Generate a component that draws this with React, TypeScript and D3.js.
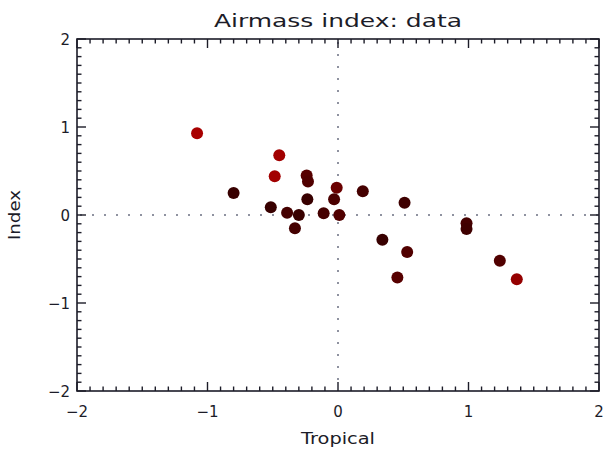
import React from 'react';
import * as d3 from 'd3';

// values
const tropical = [-1.08, -0.8, -0.45, -0.485, -0.515, -0.24, -0.23, -0.01, 0.19, -0.235, -0.03, -0.39, -0.3, -0.11, 0.01, -0.33, 0.51, 0.985, 0.985, 0.34, 0.53, 1.24, 0.455, 1.37];
const index = [0.93, 0.25, 0.68, 0.44, 0.087, 0.45, 0.38, 0.31, 0.27, 0.18, 0.18, 0.026, 0.0, 0.02, 0.0, -0.15, 0.14, -0.095, -0.16, -0.28, -0.42, -0.52, -0.71, -0.73];
// redness of each point (0 = dark, 1 = bright red)
const shade = [1.0, 0.1, 0.95, 0.95, 0.1, 0.35, 0.3, 0.5, 0.2, 0.1, 0.25, 0.2, 0.1, 0.2, 0.3, 0.2, 0.15, 0.2, 0.15, 0.1, 0.3, 0.3, 0.35, 0.85];
const majorTicks = [-2, -1, 0, 1, 2];
const tickLabels = ['\u22122', '\u22121', '0', '1', '2'];

const W = 604;
const H = 451;
const margin = { top: 39, right: 5, bottom: 60, left: 77 };
const axisColor = '#1c1c28';
const font = '"DejaVu Sans", sans-serif';

const App = () => {
  const x = d3.scaleLinear().domain([-2, 2]).range([margin.left, W - margin.right]);
  const y = d3.scaleLinear().domain([-2, 2]).range([H - margin.bottom, margin.top]);
  const color = d3.scaleLinear<string>().domain([0, 1]).range(['#2c0000', '#a80000']);

  const minor = d3.range(-20, 21).map((d) => d / 10);
  const x0 = x.range()[0], x1 = x.range()[1];
  const y0 = y.range()[0], y1 = y.range()[1];
  const isMajor = (v: number) => Math.abs(v - Math.round(v)) < 1e-9;

  const dotsX = d3.range(x0 + 4, x1, 12);
  const dotsY = d3.range(y1 + 4, y0, 12);

  return (
    <svg width={W} height={H} style={{ position: 'absolute', left: 0, top: 0, background: '#fff' }}>
      <text x={x(0)} y={27} textAnchor="middle" fontFamily={font} fontSize={18} fill={axisColor}
        textLength={248} lengthAdjust="spacingAndGlyphs">Airmass index: data</text>

      {/* zero lines, dotted */}
      {dotsX.map((d, i) => (
        <rect key={'dx' + i} x={d - 0.75} y={y(0) - 0.75} width={1.5} height={1.5} fill="#3a3f58" />
      ))}
      {dotsY.map((d, i) => (
        <rect key={'dy' + i} x={x(0) - 0.75} y={d - 0.75} width={1.5} height={1.5} fill="#3a3f58" />
      ))}

      {/* frame */}
      <rect x={x0} y={y1} width={x1 - x0} height={y0 - y1} fill="none" stroke={axisColor} strokeWidth={1.6} />

      {/* ticks on all four sides, pointing inward */}
      {minor.map((v) => {
        const len = isMajor(v) ? 9 : 4.5;
        return (
          <g key={'t' + v} stroke={axisColor} strokeWidth={1.4}>
            <line x1={x(v)} x2={x(v)} y1={y0} y2={y0 - len} />
            <line x1={x(v)} x2={x(v)} y1={y1} y2={y1 + len} />
            <line x1={x0} x2={x0 + len} y1={y(v)} y2={y(v)} />
            <line x1={x1} x2={x1 - len} y1={y(v)} y2={y(v)} />
          </g>
        );
      })}

      {majorTicks.map((v, i) => (
        <text key={'xl' + v} x={x(v)} y={y0 + 26} textAnchor="middle" fontFamily={font} fontSize={15} fill={axisColor}>
          {tickLabels[i]}
        </text>
      ))}
      {majorTicks.map((v, i) => (
        <text key={'yl' + v} x={x0 - 7} y={y(v) + 6} textAnchor="end" fontFamily={font} fontSize={15} fill={axisColor}>
          {tickLabels[i]}
        </text>
      ))}

      <text x={x(0)} y={y0 + 53} textAnchor="middle" fontFamily={font} fontSize={15} fill={axisColor}
        textLength={74} lengthAdjust="spacingAndGlyphs">Tropical</text>
      <text transform={`translate(20, ${(y0 + y1) / 2}) rotate(-90)`} textAnchor="middle" fontFamily={font} fontSize={15}
        fill={axisColor} textLength={50} lengthAdjust="spacingAndGlyphs">Index</text>

      {tropical.map((t, i) => (
        <circle key={'p' + i} cx={x(t)} cy={y(index[i])} r={6} fill={color(shade[i])} />
      ))}
    </svg>
  );
};

export default App;
